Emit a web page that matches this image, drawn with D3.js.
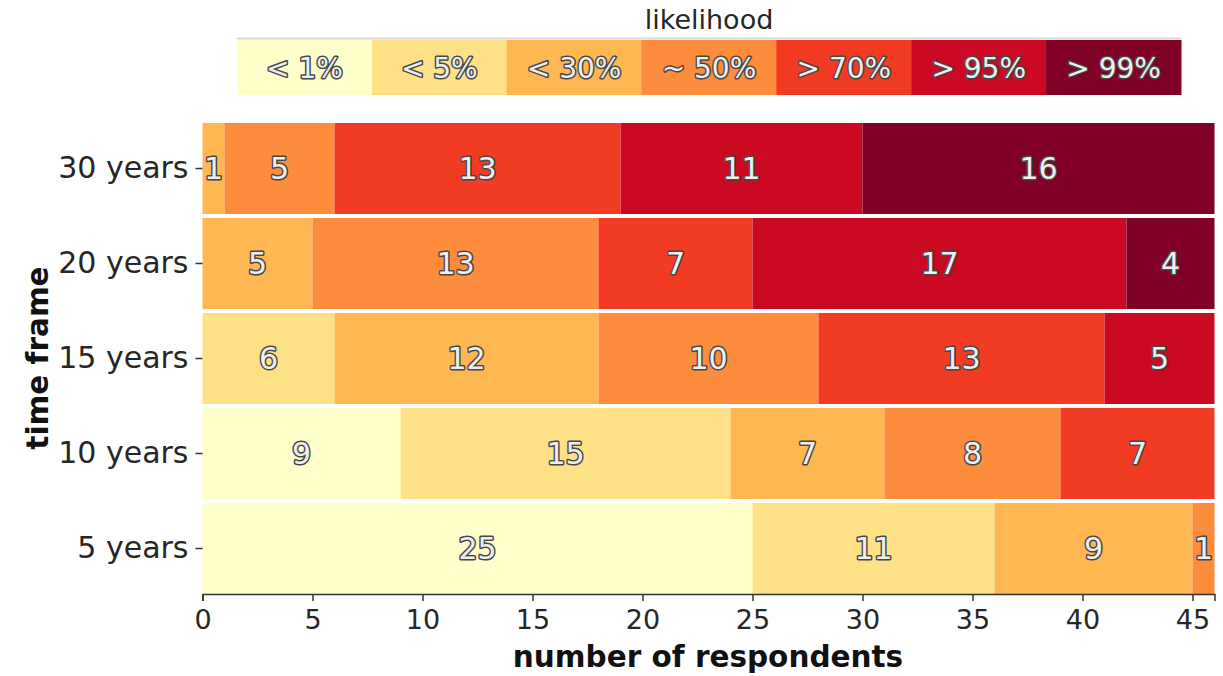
<!DOCTYPE html>
<html>
<head>
<meta charset="utf-8">
<script src="https://cdn.jsdelivr.net/npm/d3@7"></script>
<style>
  html, body { margin: 0; padding: 0; background: #fff; }
  svg { display: block; font-family: "DejaVu Sans", sans-serif; }
  .val { fill: #efefef; stroke: #474747; stroke-width: 3px; paint-order: stroke; stroke-linejoin: round; }
</style>
</head>
<body>
<svg id="chart" width="1223" height="676"></svg>
<script>
// Survey answers: how many respondents chose each likelihood, per time frame
const timeFrames = ["30 years", "20 years", "15 years", "10 years", "5 years"];
const likelihoods = ["< 1%", "< 5%", "< 30%", "~ 50%", "> 70%", "> 95%", "> 99%"];
const below1  = [0, 0, 0, 9, 25];
const below5  = [0, 0, 6, 15, 11];
const below30 = [1, 5, 12, 7, 9];
const about50 = [5, 13, 10, 8, 1];
const above70 = [13, 7, 13, 7, 0];
const above95 = [11, 17, 5, 0, 0];
const above99 = [16, 4, 0, 0, 0];
const xTicks = [0, 5, 10, 15, 20, 25, 30, 35, 40, 45];
const colors = ["#ffffcc", "#fee187", "#feb751", "#fd8c3c", "#f13c23", "#c90a22", "#800026"];

const seriesValues = [below1, below5, below30, about50, above70, above95, above99];
const rows = timeFrames.map((t, i) => {
  const r = { frame: t };
  likelihoods.forEach((l, j) => { r[l] = seriesValues[j][i]; });
  return r;
});

const svg = d3.select("#chart");
const x = d3.scaleLinear().domain([0, 46]).range([202.5, 1214.5]);
const y = d3.scaleBand().domain(timeFrames).range([123, 594]).paddingInner(0.042).paddingOuter(0);
const color = d3.scaleOrdinal().domain(likelihoods).range(colors);

const stacked = d3.stack().keys(likelihoods)(rows);

// stacked bars
const layers = svg.append("g").selectAll("g").data(stacked).join("g")
  .attr("fill", d => color(d.key));
layers.selectAll("rect").data(d => d).join("rect")
  .attr("x", d => x(d[0]))
  .attr("y", d => y(d.data.frame))
  .attr("width", d => x(d[1]) - x(d[0]))
  .attr("height", y.bandwidth());

// counts inside segments
const labels = svg.append("g").attr("font-size", 30).attr("text-anchor", "middle");
stacked.forEach(layer => {
  layer.forEach(d => {
    const v = d[1] - d[0];
    if (v <= 0) return;
    labels.append("text").attr("class", "val")
      .attr("x", x((d[0] + d[1]) / 2))
      .attr("y", y(d.data.frame) + y.bandwidth() / 2)
      .attr("dy", "0.36em")
      .text(v);
  });
});

// x axis
const xAxis = svg.append("g").attr("transform", `translate(0,${594})`)
  .call(d3.axisBottom(x).tickValues(xTicks).tickSize(7).tickPadding(9));
xAxis.select(".domain").attr("stroke", "#333").attr("stroke-width", 1.5);
xAxis.selectAll(".tick line").attr("stroke", "#333").attr("stroke-width", 1.5);
xAxis.selectAll("text").attr("font-size", 27).attr("fill", "#262626").attr("font-family", "DejaVu Sans");

// y axis
const yAxis = svg.append("g").attr("transform", `translate(${202.5},0)`)
  .call(d3.axisLeft(y).tickSize(7).tickPadding(7));
yAxis.select(".domain").remove();
yAxis.selectAll(".tick line").attr("stroke", "#333").attr("stroke-width", 1.5);
yAxis.selectAll("text").attr("font-size", 30).attr("fill", "#262626").attr("font-family", "DejaVu Sans");

// axis titles
svg.append("text").attr("x", 708).attr("y", 667).attr("text-anchor", "middle")
  .attr("font-size", 29.5).attr("font-weight", "bold").attr("fill", "#111")
  .text("number of respondents");
svg.append("text").attr("transform", "translate(48,358) rotate(-90)").attr("text-anchor", "middle")
  .attr("font-size", 29.5).attr("font-weight", "bold").attr("fill", "#111")
  .text("time frame");

// legend
const legX = d3.scaleBand().domain(likelihoods).range([237, 1181]);
const legend = svg.append("g");
legend.append("line").attr("x1", 237).attr("x2", 1181).attr("y1", 38.5).attr("y2", 38.5)
  .attr("stroke", "#d6d6d6").attr("stroke-width", 2);
legend.selectAll("rect").data(likelihoods).join("rect")
  .attr("x", d => legX(d)).attr("y", 40)
  .attr("width", legX.bandwidth() + 0.5).attr("height", 55)
  .attr("fill", d => color(d));
legend.selectAll("text.val").data(likelihoods).join("text")
  .attr("class", "val")
  .attr("x", d => legX(d) + legX.bandwidth() / 2).attr("y", 67.5)
  .attr("dy", "0.36em").attr("text-anchor", "middle").attr("font-size", 28)
  .text(d => d);
legend.append("text").attr("x", 709).attr("y", 29).attr("text-anchor", "middle")
  .attr("font-size", 27).attr("fill", "#262626").text("likelihood");
</script>
</body>
</html>
